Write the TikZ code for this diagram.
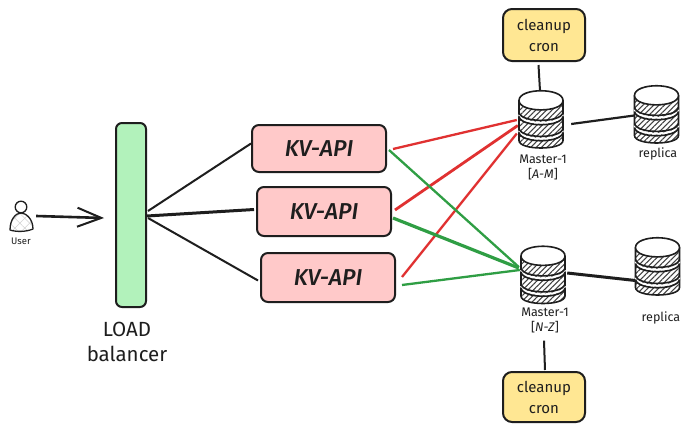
\documentclass[tikz,border=0pt]{standalone}
\usepackage{fontspec}
\setmainfont{Fira Sans}
\newfontfamily\kvfont{Fira Sans Medium}
\usetikzlibrary{calc,patterns.meta,arrows.meta}
\definecolor{ink}{HTML}{1E1E1E}
\definecolor{redline}{HTML}{E03131}
\definecolor{greenline}{HTML}{2F9E44}
\definecolor{pinkfill}{HTML}{FFC9C9}
\definecolor{mintfill}{HTML}{B2F2BB}
\definecolor{sandfill}{HTML}{FFE793}
\tikzset{
  sketchbox/.style={draw=ink,line width=2pt,rounded corners=7pt,inner sep=0pt,align=center,text=ink},
  kvbox/.style={sketchbox,fill=pinkfill,font=\fontsize{23}{25}\kvfont\itshape},
  cronbox/.style={sketchbox,fill=sandfill,rounded corners=9pt,minimum width=82pt,font=\fontsize{15}{21}\selectfont},
  dbspot/.style={minimum width=44pt,minimum height=57pt,inner sep=0pt},
  caption/.style={text=ink,align=center,font=\fontsize{12.5}{15}\selectfont},
  wire/.style={draw=ink,line width=2pt},
  redwire/.style={draw=redline,line width=2.3pt},
  greenwire/.style={draw=greenline,line width=2.3pt},
  pics/dbstack/.style={code={
    \path[fill=white,postaction={pattern={Lines[angle=45,distance=3.8pt,line width=1.05pt]},pattern color=ink!85}]
      (-22,-22) -- (-22,21) .. controls (-22,31) and (22,31) .. (22,21) -- (22,-22) -- cycle;
    \draw[ink,line width=1.6pt,line join=round]
      (-22,-19) -- (-22,21) .. controls (-22,31) and (22,31) .. (22,21) -- (22,-19);
    \draw[white,line width=1.8pt] (-22,-5) .. controls (-20,6) and (20,6) .. (22,-5);
    \draw[white,line width=1.8pt] (-22,11) .. controls (-20,22) and (20,22) .. (22,11);
    \draw[ink,line width=1.6pt] (-22,-7) .. controls (-20,3.5) and (20,3.5) .. (22,-7);
    \draw[ink,line width=1.6pt] (-22,-3) .. controls (-20,8) and (20,8) .. (22,-3);
    \draw[ink,line width=1.6pt] (-22,9) .. controls (-20,19.5) and (20,19.5) .. (22,9);
    \draw[ink,line width=1.6pt] (-22,13) .. controls (-20,24) and (20,24) .. (22,13);
    \draw[ink,line width=1.6pt,fill=white] (-22,-19) .. controls (-22,-32) and (22,-32) .. (22,-19)
       .. controls (22,-6.5) and (-22,-6.5) .. (-22,-19) -- cycle;
  }}
}
\begin{document}
\begin{tikzpicture}[x=1pt,y=-1pt]
\useasboundingbox[fill=white] (0,0) rectangle (691,431);

% load balancer
\node[sketchbox,fill=mintfill,rounded corners=6pt,minimum width=30pt,minimum height=184pt] (lb) at (131,215) {};
\node[text=ink,align=center,font=\fontsize{20.5}{25}\selectfont] (lbtext) at (127,342) {LOAD\\balancer};

% user
\node[minimum width=24pt,minimum height=30pt,inner sep=0pt] (user) at (21,216) {};
\path[fill=white,postaction={pattern={Lines[angle=45,distance=7pt,line width=.5pt]},pattern color=black!18},postaction={pattern={Lines[angle=-45,distance=7pt,line width=.5pt]},pattern color=black!18}]
  (10,230) .. controls (10,219) and (16,213) .. (21,213) .. controls (26,213) and (33,219) .. (33,229) .. controls (26,232) and (16,232) .. (10,230) -- cycle;
\draw[ink,line width=1.3pt,line join=round]
  (10,230) .. controls (10,219) and (16,213) .. (21,213) .. controls (26,213) and (33,219) .. (33,229) .. controls (26,232) and (16,232) .. (10,230) -- cycle;
\draw[ink,line width=1.3pt,fill=white] (21,207) circle (5.8);
\node[text=ink,font=\fontsize{9.5}{10}\selectfont] (usertext) at (21,241) {User};

% KV boxes
\node[kvbox,minimum width=134pt,minimum height=47pt] (kv1) at (319,148.5) {KV-API};
\node[kvbox,minimum width=134pt,minimum height=49pt] (kv2) at (324,211.5) {KV-API};
\node[kvbox,minimum width=134pt,minimum height=49pt] (kv3) at (328,277.5) {KV-API};

% database spots
\node[dbspot] (m1) at (541,119.5) {};
\node[dbspot] (r1) at (656.5,114.5) {};
\node[dbspot] (m2) at (543,275) {};
\node[dbspot] (r2) at (657.5,266.5) {};

% cron boxes
\node[cronbox,minimum height=52pt] (c1) at (544,35) {cleanup\\cron};
\node[cronbox,minimum height=50pt] (c2) at (544,397) {cleanup\\cron};

% connectors: user and balancer
\draw[wire,line width=2.6pt,-{Straight Barb[length=24pt,width=19pt,line width=2pt]}]
  ($(user.east)+(3,0)$) -- ($(lb.west)+(-11,3)$);
\draw[wire] ($(lb.east)+(1,-4)$) -- ($(kv1.west)+(0,-5)$);
\draw[wire,line width=3pt] ($(lb.east)+(0,1)$) -- ($(kv2.west)+(-2,-2)$);
\draw[wire] ($(lb.east)+(1,3)$) -- ($(kv3.west)+(-2,3)$);

% red connectors
\draw[redwire] ($(kv1.east)+(6,0.5)$) -- ($(m1.west)+(-2,0.5)$);
\draw[redwire,line width=2.8pt] ($(kv2.east)+(3,-1.5)$) -- ($(m1.west)+(-1,6)$);
\draw[redwire] ($(kv3.east)+(6,-0.5)$) -- ($(m1.west)+(-2,14)$);

% green connectors
\draw[greenwire] ($(kv1.east)+(2,1.5)$) -- ($(m2.west)+(-2,-8)$);
\draw[greenwire,line width=3.2pt] ($(kv2.east)+(1,6.5)$) -- ($(m2.west)+(-2,-7)$);
\draw[greenwire] ($(kv3.east)+(6,7.5)$) -- ($(m2.west)+(-1,-5)$);

% black connectors on the right
\draw[wire] ($(c1.south)+(-5.5,3)$) -- ($(m1.north)+(-1,0)$);
\draw[wire] ($(m2.south)+(1,37)$) -- ($(c2.north)+(1,-1)$);
\draw[wire,line width=2.2pt] ($(m1.east)+(8,4.5)$) -- ($(r1.west)+(0,1)$);
\draw[wire,line width=3pt] ($(m2.east)+(2,-2)$) -- ($(r2.west)+(0,14)$);

% databases
\pic at (m1.center) {dbstack};
\pic at (r1.center) {dbstack};
\pic at (m2.center) {dbstack};
\pic at (r2.center) {dbstack};

% captions
\node[caption] (m1text) at (543,167.5) {Master-1\\{[}\textit{A-M}{]}};
\node[caption] (r1text) at (658,154) {replica};
\node[caption] (m2text) at (545,320.5) {Master-1\\{[}\textit{N-Z}{]}};
\node[caption] (r2text) at (661,318) {replica};
\end{tikzpicture}
\end{document}
